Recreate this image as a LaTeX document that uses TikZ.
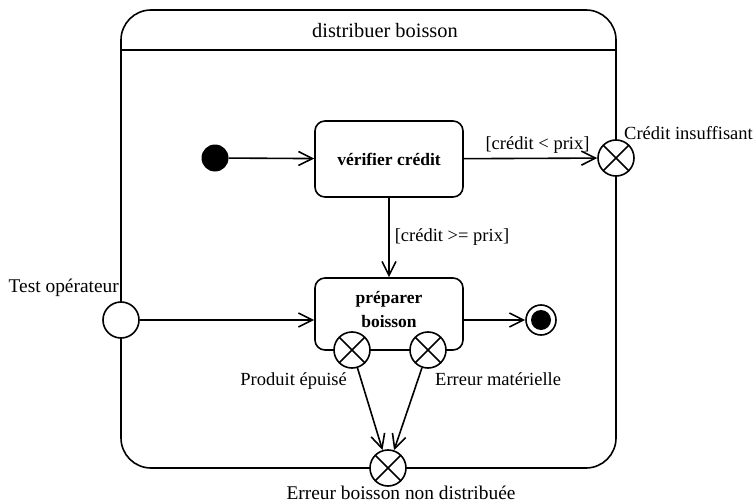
\documentclass[tikz,border=0pt]{standalone}
\usepackage{fontspec}
\setmainfont{Liberation Serif}
\usetikzlibrary{arrows.meta}
\begin{document}
\begin{tikzpicture}[x=1pt,y=-1pt,
  every node/.style={font=\fontsize{18.5}{21}\selectfont},
  ln/.style={line width=1.6pt},
  act/.style={ln,draw,rounded corners=10pt,minimum width=148pt,align=center,font=\fontsize{17.5}{24}\selectfont\bfseries},
  flow/.style={ln,-{Straight Barb[length=14pt,width=14pt]}},
  xpt/.style={ln,draw,fill=white,circle,minimum size=36pt,inner sep=0pt,path picture={
     \draw[ln] ([shift={(-45:18pt)}]path picture bounding box.center) -- ([shift={(135:18pt)}]path picture bounding box.center);
     \draw[ln] ([shift={(45:18pt)}]path picture bounding box.center) -- ([shift={(225:18pt)}]path picture bounding box.center);}},
  ept/.style={ln,draw,fill=white,circle,minimum size=36pt,inner sep=0pt},
  lbl/.style={inner sep=1pt},
  big/.style={font=\fontsize{19.4}{22}\selectfont}]
\useasboundingbox (0,0) rectangle (753,503);
% outer state
\draw[ln,rounded corners=30pt] (121,468) -- (121,10) -- (616,10) -- (616,468) -- cycle;
\draw[ln] (121,50) -- (616,50);
\node[lbl,font=\fontsize{20.4}{23}\selectfont] (title) at (385,31) {distribuer boisson};
% activities
\node[act,minimum height=76pt] (verif) at (389,159) {vérifier crédit};
\node[act,minimum height=72pt,text depth=0pt] (prep) at (389,314) {};
\node[font=\fontsize{17.5}{24}\selectfont\bfseries,align=center] (preptxt) at (389,310) {préparer\\boisson};
% initial
\node[circle,fill=black,minimum size=27pt,inner sep=0pt] (init) at (215,158) {};
% final
\node[ln,draw,circle,fill=white,minimum size=30pt,inner sep=0pt] (fin) at (541,320) {};
\node[circle,fill=black,minimum size=20pt,inner sep=0pt] (finin) at (541,320) {};
% connection points
\node[xpt] (ci) at (616,158) {};
\node[lbl,anchor=south west] (cil) at (623,141) {Crédit insuffisant};
\node[ept] (test) at (121,320) {};
\node[lbl,big,anchor=south east] (testl) at (120,298) {Test opérateur};
\node[xpt] (pe) at (352,350) {};
\node[xpt] (em) at (428,350) {};
\node[lbl,anchor=north east] (pel) at (348,371) {Produit épuisé};
\node[lbl,anchor=north west] (eml) at (434,371) {Erreur matérielle};
\node[xpt] (eb) at (388,468) {};
\node[lbl,big,anchor=north] (ebl) at (401,485) {Erreur boisson non distribuée};
% flows
\draw[flow] (init) -- (verif);
\draw[flow] (verif) -- node[lbl,above=3pt,xshift=7pt] (g1) {[crédit < prix]} (ci);
\draw[flow] (verif.south) -- node[lbl,right=4pt,pos=0.5] (g2) {[crédit >= prix]} (prep.north);
\draw[flow] (test) -- (test -| prep.west);
\draw[flow] (prep.east |- fin) -- (fin);
\draw[flow] (pe) -- (eb);
\draw[flow] (em) -- (eb);
\end{tikzpicture}
\end{document}
